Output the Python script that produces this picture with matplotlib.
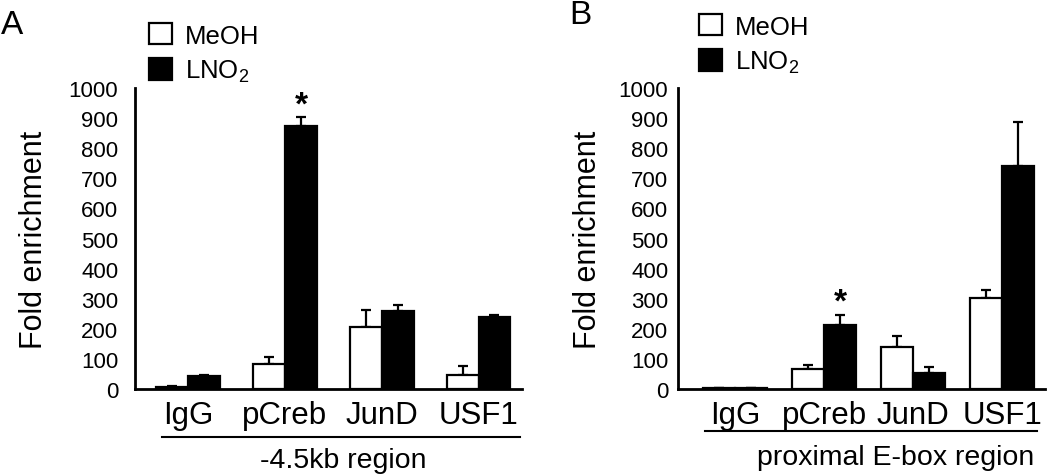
import numpy as np
import matplotlib
matplotlib.use("Agg")
import matplotlib.pyplot as plt
import matplotlib.transforms as mtransforms

plt.rcParams['font.family'] = ['Liberation Sans', 'DejaVu Sans']
plt.rcParams['mathtext.fontset'] = 'custom'
plt.rcParams['mathtext.rm'] = 'Liberation Sans'
plt.rcParams['mathtext.default'] = 'regular'

# Data
groups = ['IgG', 'pCreb', 'JunD', 'USF1']

a_meoh = [8, 83, 205, 48]
a_meoh_err = [3, 23, 58, 30]
a_lno2 = [43, 873, 260, 238]
a_lno2_err = [5, 30, 20, 8]

b_meoh = [3, 66, 139, 302]
b_meoh_err = [1, 14, 38, 27]
b_lno2 = [3, 213, 53, 740]
b_lno2_err = [1, 33, 20, 146]

star_group = 1  # pCreb, LNO2 bar


def draw_panel(ax, meoh, meoh_err, lno2, lno2_err, width, xlim, tick_pad,
               label_x, region_text, line_x, line_y, region_x, region_y):
    x = np.arange(len(groups))
    zeros = np.zeros(len(groups))
    b1 = ax.bar(x - width / 2, meoh, width, color='white', edgecolor='black',
                linewidth=1.6, zorder=2)
    b2 = ax.bar(x + width / 2, lno2, width, color='black', edgecolor='black',
                linewidth=1.6, zorder=2)
    ax.errorbar(x - width / 2, meoh, yerr=[zeros, meoh_err], fmt='none',
                ecolor='black', elinewidth=1.6, capsize=3.5, capthick=1.6, zorder=1)
    ax.errorbar(x + width / 2, lno2, yerr=[zeros, lno2_err], fmt='none',
                ecolor='black', elinewidth=1.6, capsize=3.5, capthick=1.6, zorder=1)

    # significance star
    top = lno2[star_group] + lno2_err[star_group]
    ax.text(star_group + width / 2, top - 10, '*', ha='center', va='bottom',
            fontsize=24, fontweight='bold')

    ax.set_xlim(*xlim)
    ax.set_ylim(0, 1000)
    ax.set_yticks(range(0, 1001, 100))
    ax.set_xticks(x)
    ax.set_xticklabels(groups, fontsize=22.5)
    ax.tick_params(axis='x', length=0, pad=8)
    ax.tick_params(axis='y', length=0, pad=tick_pad, labelsize=16)
    for s in ['top', 'right']:
        ax.spines[s].set_visible(False)
    for s in ['left', 'bottom']:
        ax.spines[s].set_linewidth(2)
    ax.set_ylabel('Fold enrichment', fontsize=22)
    ax.yaxis.set_label_coords(label_x, 0.5)

    # region underline and label
    trans = mtransforms.blended_transform_factory(ax.transData, ax.transAxes)
    ax.plot(line_x, [line_y, line_y], color='black', linewidth=1.5,
            transform=trans, clip_on=False)
    ax.text(region_x, region_y, region_text, transform=trans, ha='center',
            va='center', fontsize=20.5)
    return b1, b2


fig = plt.figure(figsize=(10.5, 4.77), dpi=100)
ax_a = fig.add_axes([0.1286, 0.1824, 0.3686, 0.6310])
ax_b = fig.add_axes([0.6457, 0.1824, 0.3495, 0.6310])

h1, h2 = draw_panel(ax_a, a_meoh, a_meoh_err, a_lno2, a_lno2_err, 0.33,
                    (-0.55, 3.45), 12, -0.222, '-4.5kb region',
                    [-0.27, 3.43], -0.159, 1.6, -0.235)
draw_panel(ax_b, b_meoh, b_meoh_err, b_lno2, b_lno2_err, 0.36,
           (-0.64, 3.48), 7, -0.204, 'proximal E-box region',
           [-0.34, 3.39], -0.14, 1.8, -0.225)

leg_kw = dict(loc='upper left', frameon=False, fontsize=18.5, handlelength=0.9,
              handleheight=0.9, labelspacing=0.4, handletextpad=0.5,
              borderpad=0, borderaxespad=0)
ax_a.legend([h1, h2], ['MeOH', 'LNO$_2$'],
            bbox_to_anchor=(149 / 1050, 1 - 24 / 477),
            bbox_transform=fig.transFigure, **leg_kw)
ax_b.legend([h1, h2], ['MeOH', 'LNO$_2$'],
            bbox_to_anchor=(699 / 1050, 1 - 15 / 477),
            bbox_transform=fig.transFigure, **leg_kw)

fig.text(12 / 1050, 1 - 25 / 477, 'A', fontsize=24, ha='center', va='center')
fig.text(580 / 1050, 1 - 16 / 477, 'B', fontsize=24, ha='center', va='center')

fig.savefig('out.png', dpi=100)
